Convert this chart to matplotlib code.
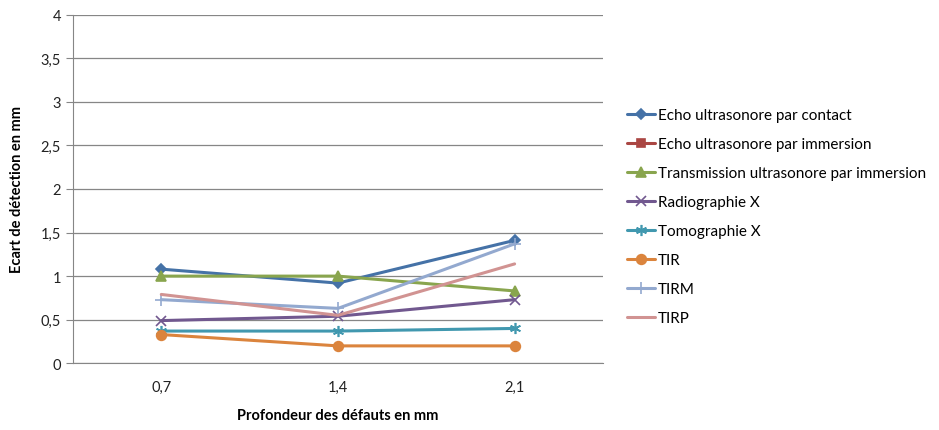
import numpy as np
import matplotlib
matplotlib.use("Agg")
import matplotlib.pyplot as plt

plt.rcParams['font.family'] = ['Lato', 'DejaVu Sans']

profondeurs = ["0,7", "1,4", "2,1"]
echo_contact = [1.08, 0.92, 1.41]
echo_immersion = [np.nan, np.nan, np.nan]
transmission = [1.0, 1.0, 0.83]
radio_x = [0.49, 0.54, 0.73]
tomo_x = [0.37, 0.37, 0.40]
tir = [0.33, 0.20, 0.20]
tirm = [0.73, 0.63, 1.37]
tirp = [0.79, 0.55, 1.14]

series = [
    ("Echo ultrasonore par contact", echo_contact, "#4572a7", "D", 5.5),
    ("Echo ultrasonore par immersion", echo_immersion, "#aa4643", "s", 6),
    ("Transmission ultrasonore par immersion", transmission, "#89a54e", "^", 7),
    ("Radiographie X", radio_x, "#71588f", "x", 7),
    ("Tomographie X", tomo_x, "#4198af", (6, 2, 0), 8),
    ("TIR", tir, "#db843d", "o", 7),
    ("TIRM", tirm, "#93a9cf", "+", 9),
    ("TIRP", tirp, "#d19392", None, 0),
]

fig = plt.figure(figsize=(9.39, 4.31), dpi=100)
ax = fig.add_axes([0.0777, 0.1547, 0.5644, 0.8093])

x = np.arange(len(profondeurs))
for name, vals, col, mk, ms in series:
    ax.plot(x, vals, color=col, lw=2.2, marker=mk, ms=ms, mew=1.2,
            label=name, solid_capstyle='round')

ax.set_xlim(-0.5, 2.5)
ax.set_ylim(0, 4)
ax.set_yticks(np.arange(0, 4.01, 0.5))
ax.set_yticklabels(["0", "0,5", "1", "1,5", "2", "2,5", "3", "3,5", "4"])
ax.set_xticks(x)
ax.set_xticklabels(profondeurs)
ax.grid(axis='y', color='#868686', lw=0.9)
ax.set_axisbelow(True)
for s in ['top', 'right']:
    ax.spines[s].set_visible(False)
for s in ['left', 'bottom']:
    ax.spines[s].set_color('#868686')
ax.tick_params(axis='y', colors='#868686', labelcolor='#222222', length=5,
               labelsize=10.5)
ax.tick_params(axis='x', length=0, labelcolor='#222222', labelsize=10.5, pad=12)
ax.set_ylabel("Ecart de détection en mm", fontweight='bold', fontsize=10.5,
              labelpad=12)
ax.set_xlabel("Profondeur des défauts en mm", fontweight='bold', fontsize=10.5,
              labelpad=10)

ax.legend(loc='center left', bbox_to_anchor=(1.02, 0.42), frameon=False,
          fontsize=11, handlelength=1.8, handletextpad=0.2, labelspacing=0.98)

fig.savefig("out.png", dpi=100)
